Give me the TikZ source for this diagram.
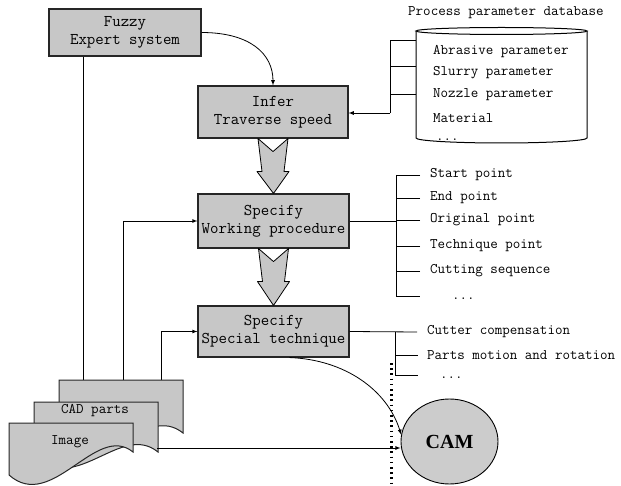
\documentclass[tikz,border=0pt]{standalone}
\usepackage{fontspec}
\setmainfont{Liberation Serif}
\usetikzlibrary{calc,shapes.geometric}
\tikzset{
	stepbox/.style={draw=black!85, line width=1.1pt, fill=black!22, inner sep=1pt,
		minimum width=151pt, align=center, font=\ttfamily\fontsize{16.4}{18}\selectfont},
	conn/.style={line width=0.8pt},
	arr/.style={conn,-latex},
	fat/.style={draw, line width=0.8pt, fill=black!22, line join=round},
	item/.style={anchor=west, inner sep=0pt, font=\ttfamily\fontsize{14.6}{16}\selectfont},
	doc/.style={draw=black!85, line width=1pt, fill=black!22},
}
\begin{document}
\begin{tikzpicture}[x=1pt,y=-1pt]
\useasboundingbox (0,0) rectangle (621,486);

\node[stepbox, minimum width=152pt, minimum height=47pt] (fuzzy) at (125,32.5) {Fuzzy\\Expert system};
\node[stepbox, minimum width=150pt, minimum height=52pt] (infer) at (273,112) {Infer\\Traverse speed};
\node[stepbox, minimum height=54pt] (work) at (273.5,221) {Specify\\Working procedure};
\node[stepbox, minimum height=51pt] (spec) at (273.5,331.5) {Specify\\Special technique};

% hollow arrows between the steps
\foreach \a/\b in {infer/work,work/spec} {
	\draw[fat] ($(\a.south)+(-15,0)$) -- ($(\a.south)+(0,13)$) -- ($(\a.south)+(15,0)$)
		-- ($(\a.south)+(11,33)$) -- ($(\a.south)+(16,33)$) -- (\b.north)
		-- ($(\a.south)+(-16,33)$) -- ($(\a.south)+(-11,33)$) -- cycle;
}
\draw[arr] (fuzzy.east) .. controls +(48,0) and +(0,-32) .. (infer.north);

% database
\node[item] (dbtitle) at (408,13) {Process parameter database};
\draw[line width=1pt] (416,31) -- (416,138) arc[start angle=180, end angle=0, x radius=85.5, y radius=5] -- (587,31);
\draw[line width=1pt] (501.5,31) ellipse[x radius=85.5, y radius=3.5];
\foreach \t/\y [count=\i] in {Abrasive parameter/52,Slurry parameter/73,Nozzle parameter/95,Material/118}
	\node[item] (db\i) at (433,\y) {\t};
\node[item] (dbmore) at (436,140) {...};
\coordinate (dbbus) at (390,113);
\foreach \y [count=\i] in {40,66,94} {
	\coordinate (dbport\i) at (416,\y);
	\draw[conn] (dbport\i) -| (dbbus);
}
\draw[arr] (dbbus) -- (dbbus -| infer.east);

% working procedure
\coordinate (wbus) at (396,175);
\coordinate (wend) at (396,296);
\foreach \t/\y [count=\i] in {Start point/175,End point/198,Original point/220,Technique point/246,Cutting sequence/271} {
	\node[item] (wp\i) at (430,\y) {\t};
	\draw[conn] ($(wp\i.west)+(-10,0)$) -- (wp\i.west -| wbus);
}
\node[item] (wpmore) at (452,299) {...};
\draw[conn] (wbus) -- (wend) -- +(24,0);
\draw[conn] (work.east) -- (work.east -| wbus);

% special technique
\coordinate (sbus) at (395,331.5);
\coordinate (send) at (395,375);
\node[item] (st1) at (427,332) {Cutter compensation};
\node[item] (st2) at (427,355) {Parts motion and rotation};
\node[item] (stmore) at (440,378) {...};
\draw[conn] (spec.east) -- ($(st1.west)+(-10,0)$);
\draw[conn] (sbus) -- (send) -- +(23,0);
\draw[conn] (sbus |- st2) -- ($(st2.west)+(-9,0)$);

% input documents
\coordinate (d1) at (83,380);
\coordinate (d2) at (123,380);
\coordinate (d3) at (161,380);
\draw[conn] (fuzzy.south -| d1) -- (d1);
\draw[arr] (d2) |- (work.west);
\draw[arr] (d3) |- (spec.west);
\foreach \x/\y/\r/\l in {59/380/53/60,34/402/50/55,9/423/29/52}
	\draw[doc] (\x,\y) -- ++(124,0) -- ++(0,\r) .. controls +(-37,-30) and (\x+43,\y+\l+38) .. (\x,\y+\l) -- cycle;
\node[item, anchor=center] (cadlabel) at (95,411) {CAD parts};
\node[item, anchor=center] (imglabel) at (70,442) {Image};

% CAM
\node[ellipse, draw, line width=0.9pt, fill=black!20, inner sep=0pt, minimum width=97pt, minimum height=85pt,
	font=\bfseries\fontsize{20}{24}\selectfont] (cam) at (449.5,441.5) {CAM};
\draw[line width=3pt, dash pattern=on 1.6pt off 3.6pt] (391,363) -- (391,484);
\coordinate (cadport) at (157,448);
\draw[arr] (cadport) -- (cadport -| cam.west);
\draw[arr] ($(spec.south)+(16,0)$) .. controls +(55,2) and +(-14,-45) .. (cam.172);
\end{tikzpicture}
\end{document}
